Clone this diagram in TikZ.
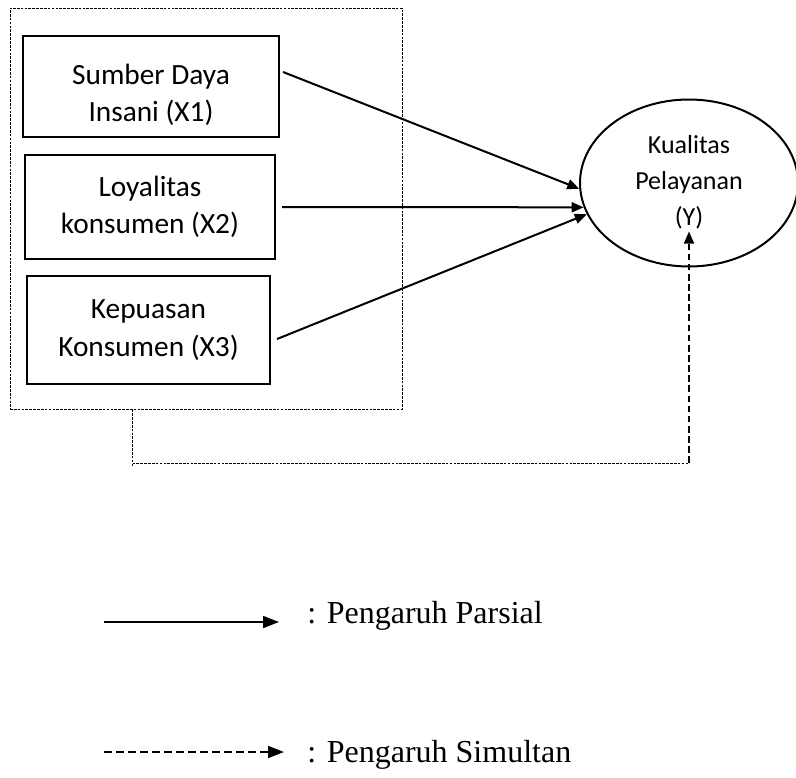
\documentclass[tikz,border=0pt]{standalone}
\usepackage{fontspec}
\setmainfont{Liberation Serif}
\newfontfamily\calfont{Carlito}
\usetikzlibrary{arrows.meta}
\usetikzlibrary{shapes.geometric}
\usetikzlibrary{calc}

\tikzset{
    varbox/.style={draw, line width=1.5pt, inner sep=0pt, align=center, font=\calfont\fontsize{22}{28}\selectfont},
    fine dash/.style={line width=0.6pt, dash pattern=on 2pt off 0.9pt},
    bold dash/.style={line width=1.3pt, dash pattern=on 5pt off 2.6pt},
    tip/.style={-{Triangle[length=9pt,width=7.5pt]}},
    legtip/.style={-{Triangle[length=12pt,width=9pt]}},
}

\begin{document}
\begin{tikzpicture}[x=0.75pt,y=0.75pt,yscale=-1,xscale=1]
\useasboundingbox (0,0) rectangle (796,778);

%Shape: Dashed frame
\node [draw, fine dash, minimum width=294pt, minimum height=300.75pt, inner sep=0pt] (grp) at (206,208.5) {};

%Shape: Rectangle
\node [varbox, minimum width=192pt, minimum height=75.75pt] (sdi) at (151,86.5) {\rule{0pt}{27.5pt}Sumber Daya\\Insani (X1)};
%Shape: Rectangle
\node [varbox, minimum width=187.5pt, minimum height=78pt] (loy) at (150,207) {Loyalitas\\konsumen (X2)};
%Shape: Rectangle
\node [varbox, minimum width=182.25pt, minimum height=81pt] (kep) at (148.5,330) {Kepuasan\\Konsumen (X3)};

%Shape: Ellipse
\node [draw, ellipse, line width=1.5pt, inner sep=0pt, minimum width=163.5pt, minimum height=125.25pt, align=center, font=\calfont\fontsize{19.5}{27}\selectfont] (kual) at (689,183) {Kualitas\\Pelayanan\\(Y)\rule[-4.5pt]{0pt}{0pt}};

% Partial arrows
\draw [line width=1.5pt, tip] ([xshift=2.25pt,yshift=-10.9pt]sdi.east) -- (kual.183);
\draw [line width=1.5pt, tip] ([xshift=4.5pt]loy.east) -- (kual.193);
\draw [line width=1.5pt, tip] ([xshift=4.5pt,yshift=6.75pt]kep.east) -- (kual.197);

% Simultaneous arrow
\coordinate (corner) at (689,463);
\draw [fine dash] ([xshift=92.25pt]grp.south west) coordinate (drop) -- ++(0,57) ;
\draw [fine dash] (drop |- corner) -- (corner);
\draw [bold dash, tip] (corner) -- ([yshift=-27pt]kual.south);

% Legend
\coordinate (lega) at (104,622);
\coordinate (legb) at (279,622);
\coordinate (legc) at (104,752);
\coordinate (legd) at (284,752);
\draw [line width=1.3pt, legtip] (lega) -- (legb);
\draw [bold dash, dash pattern=on 6pt off 3pt, legtip] (legc) -- (legd);

% Text Node
\node [anchor=base west, inner sep=0pt, font=\fontsize{24}{28}\selectfont] (parsial) at (307,623) {: Pengaruh Parsial};
% Text Node
\node [anchor=base west, inner sep=0pt, font=\fontsize{24}{28}\selectfont] (simultan) at (307,762) {: Pengaruh Simultan};

\end{tikzpicture}
\end{document}
